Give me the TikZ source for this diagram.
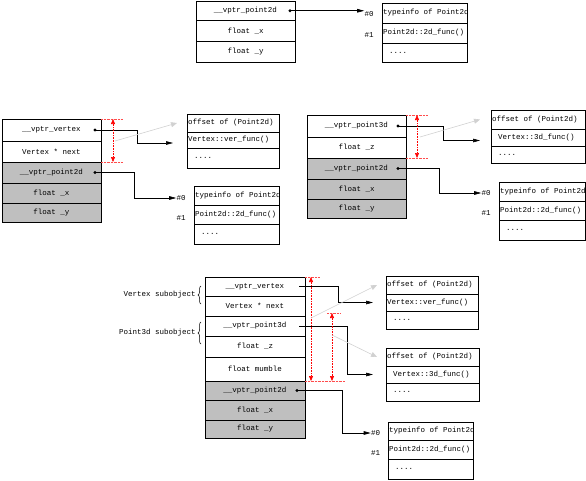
\documentclass[tikz,border=0pt]{standalone}
\usepackage{fontspec}
\setmonofont{Liberation Mono}
\usetikzlibrary{arrows.meta,decorations.pathreplacing}
\newcommand{\tabfont}{\ttfamily\fontsize{7.5}{9}\selectfont}

\begin{document}
\begin{tikzpicture}[x=1pt,y=-1pt,line width=0.6pt,
  fld/.style={draw,inner sep=0pt,outer sep=0pt,minimum width=#1,anchor=north,font=\tabfont},
  fld/.default=99pt,
  shd/.style={fld=#1,fill=black!25},
  shd/.default=99pt,
  vt/.style={draw,inner xsep=1pt,inner ysep=0pt,outer sep=0pt,anchor=north,font=\tabfont,
    execute at begin node={\hbox to #1\bgroup},execute at end node={\hss\egroup}},
  lbl/.style={inner sep=0pt,font=\tabfont},
  ptr/.style={-{Triangle[length=7pt,width=3.6pt]}},
  span/.style={red,densely dotted,{Triangle[length=5pt,width=4pt]}-{Triangle[length=5pt,width=4pt]}},
  tick/.style={red!70,densely dotted,line width=0.4pt},
  ghost/.style={black!18,-{Triangle[length=6pt,width=5pt]}},
  dot/.style={circle,fill,inner sep=1.1pt}]
\useasboundingbox (0,0) rectangle (586,480);

% ---- 上：Point2d 对象 ----
\node[fld,minimum height=19.5pt] (p1) at (245.5,1) {\_\_vptr\_point2d};
\node[fld,minimum height=20.5pt] (p2) at (p1.south) {float \_x};
\node[fld,minimum height=21pt] (p3) at (p2.south) {float \_y};
% Point2d 的虚表
\node[vt=83pt,minimum height=20pt] (q1) at (424.5,3) {typeinfo of Point2d};
\node[vt=83pt,minimum height=20pt] (q2) at (q1.south) {Point2d::2d\_func()};
\node[vt=83pt,minimum height=19pt] (q3) at (q2.south) {\hspace{6pt}....};
\node[lbl] (q0) at (369,14) {\#0};
\node[lbl] (qq) at (369,35) {\#1};
\node[dot] (pd) at ([xshift=-5pt]p1.east) {};
\draw[ptr] (pd.center) -- (pd.center -| q0.west);

% ---- 中左：Vertex 对象 ----
\node[fld,minimum height=22pt] (o1) at (51.5,119) {\_\_vptr\_vertex};
\node[fld,minimum height=21pt] (o2) at (o1.south) {Vertex * next};
\node[shd,minimum height=21pt] (o3) at (o2.south) {\_\_vptr\_point2d};
\node[shd,minimum height=20pt] (o4) at (o3.south) {float \_x};
\node[shd,minimum height=19pt] (o5) at (o4.south) {float \_y};
% Vertex 虚表
\node[vt=90pt,minimum height=18pt] (a1) at (233,114) {offset of (Point2d)};
\node[vt=90pt,minimum height=16pt] (a2) at (a1.south) {Vertex::ver\_func()};
\node[vt=90pt,minimum height=20pt] (a3) at (a2.south) {\hspace{6pt}....};
% Point2d 虚表
\node[vt=83pt,minimum height=19pt] (b1) at (236.5,186) {typeinfo of Point2d};
\node[vt=83pt,minimum height=19pt] (b2) at (b1.south) {Point2d::2d\_func()};
\node[vt=83pt,minimum height=20pt] (b3) at (b2.south) {\hspace{6pt}....};
\node[lbl] (b0) at (181,198) {\#0};
\node[lbl] (bb) at (181,218) {\#1};
\node[dot] (od1) at ([xshift=-6pt]o1.east) {};
\node[dot] (od3) at ([xshift=-6pt]o3.east) {};
\draw[ptr] (od1.center) -- ++(42,0) |- ([xshift=-14pt,yshift=-3pt]a2.west);
\draw[ptr] (od3.center) -- ++(39,0) |- (b0.west);
% 偏移量
\draw[tick] (o1.north east) -- ++(22,0);
\draw[tick] (o2.south east) -- ++(22,0);
\draw[span] ([xshift=12pt]o1.north east) -- ([xshift=12pt]o2.south east);
\draw[ghost] ([xshift=14pt]o1.south east) -- ([xshift=-10pt]a1.west);

% ---- 中右：Point3d 对象 ----
\node[fld,minimum height=22pt] (r1) at (356.5,115) {\_\_vptr\_point3d};
\node[fld,minimum height=21pt] (r2) at (r1.south) {float \_z};
\node[shd,minimum height=21pt] (r3) at (r2.south) {\_\_vptr\_point2d};
\node[shd,minimum height=20pt] (r4) at (r3.south) {float \_x};
\node[shd,minimum height=19pt] (r5) at (r4.south) {float \_y};
% Point3d 虚表
\node[vt=92pt,minimum height=19pt] (c1) at (538,110) {offset of (Point2d)};
\node[vt=92pt,minimum height=17pt] (c2) at (c1.south) {\hspace{6pt}Vertex::3d\_func()};
\node[vt=92pt,minimum height=17pt] (c3) at (c2.south) {\hspace{6pt}....};
% Point2d 虚表
\node[vt=84pt,minimum height=19pt] (d1) at (542,182) {typeinfo of Point2d};
\node[vt=84pt,minimum height=19pt] (d2) at (d1.south) {Point2d::2d\_func()};
\node[vt=84pt,minimum height=20pt] (d3) at (d2.south) {\hspace{6pt}....};
\node[lbl] (d0) at (486,193) {\#0};
\node[lbl] (dd) at (486,213) {\#1};
\node[dot] (rd1) at ([xshift=-8pt]r1.east) {};
\node[dot] (rd3) at ([xshift=-8pt]r3.east) {};
\draw[ptr] (rd1.center) -- ++(45,0) |- ([xshift=-11pt,yshift=-3pt]c2.west);
\draw[ptr] (rd3.center) -- ++(41,0) |- (d0.west);
% 偏移量
\draw[tick] (r1.north east) -- ++(22,0);
\draw[tick] (r2.south east) -- ++(22,0);
\draw[span] ([xshift=11pt]r1.north east) -- ([xshift=11pt]r2.south east);
\draw[ghost] ([xshift=14pt]r1.south east) -- ([xshift=-11pt]c1.west);

% ---- 下：Vertex3d 对象 ----
\node[fld=100pt,minimum height=19pt] (v1) at (255,277) {\_\_vptr\_vertex};
\node[fld=100pt,minimum height=20pt] (v2) at (v1.south) {Vertex * next};
\node[fld=100pt,minimum height=20pt] (v3) at (v2.south) {\_\_vptr\_point3d};
\node[fld=100pt,minimum height=21pt] (v4) at (v3.south) {float \_z};
\node[fld=100pt,minimum height=24pt] (v5) at (v4.south) {float mumble};
\node[shd=100pt,minimum height=19pt] (v6) at (v5.south) {\_\_vptr\_point2d};
\node[shd=100pt,minimum height=20pt] (v7) at (v6.south) {float \_x};
\node[shd=100pt,minimum height=18pt] (v8) at (v7.south) {float \_y};
% 子对象标注
\node[lbl,anchor=east] (sv) at (196,295) {Vertex subobject};
\node[lbl,anchor=east] (sp) at (196,333) {Point3d subobject};
\draw[decorate,decoration={brace,amplitude=3pt},line width=0.5pt] (201,304) -- (201,286);
\draw[decorate,decoration={brace,amplitude=3pt},line width=0.5pt] (201,344) -- (201,322);
% Vertex 虚表
\node[vt=90pt,minimum height=18pt] (e1) at (432,276) {offset of (Point2d)};
\node[vt=90pt,minimum height=17pt] (e2) at (e1.south) {Vertex::ver\_func()};
\node[vt=90pt,minimum height=18pt] (e3) at (e2.south) {\hspace{6pt}....};
% Point3d 虚表
\node[vt=91pt,minimum height=18pt] (f1) at (432.5,348) {offset of (Point2d)};
\node[vt=91pt,minimum height=17pt] (f2) at (f1.south) {\hspace{6pt}Vertex::3d\_func()};
\node[vt=91pt,minimum height=18pt] (f3) at (f2.south) {\hspace{6pt}....};
% Point2d 虚表
\node[vt=83pt,minimum height=18pt] (g1) at (430.5,422) {typeinfo of Point2d};
\node[vt=83pt,minimum height=19pt] (g2) at (g1.south) {Point2d::2d\_func()};
\node[vt=83pt,minimum height=20pt] (g3) at (g2.south) {\hspace{6pt}....};
\node[lbl] (g0) at (375.5,433) {\#0};
\node[lbl] (gg) at (375.5,453) {\#1};
\coordinate (vd1) at ([xshift=-6pt]v1.east);
\coordinate (vd3) at ([xshift=-6pt]v3.east);
\node[dot] (vd6) at ([xshift=-8pt]v6.east) {};
\draw[ptr] (vd1) -- ++(39,0) |- ([xshift=-13pt]e2.west);
\draw[ptr] (vd3) -- ++(48,0) |- ([xshift=-13pt]f2.west);
\draw[ptr] (vd6.center) -- ++(45,0) |- (g0.west);
% 偏移量
\draw[tick] (v1.north east) -- ++(15,0);
\draw[tick] (v5.south east) -- ++(40,0);
\draw[tick] ([xshift=22pt,yshift=3pt]v3.north east) -- ++(13,0);
\draw[span] ([xshift=6pt]v1.north east) -- ([xshift=6pt]v5.south east);
\draw[span] ([xshift=27pt,yshift=3pt]v3.north east) -- ([xshift=27pt]v5.south east);
\draw[ghost] ([xshift=6pt,yshift=-2pt]v3.north east) -- ([xshift=-9pt]e1.west);
\draw[ghost] ([xshift=27pt,yshift=1pt]v4.north east) -- ([xshift=-9pt]f1.west);
\end{tikzpicture}
\end{document}
